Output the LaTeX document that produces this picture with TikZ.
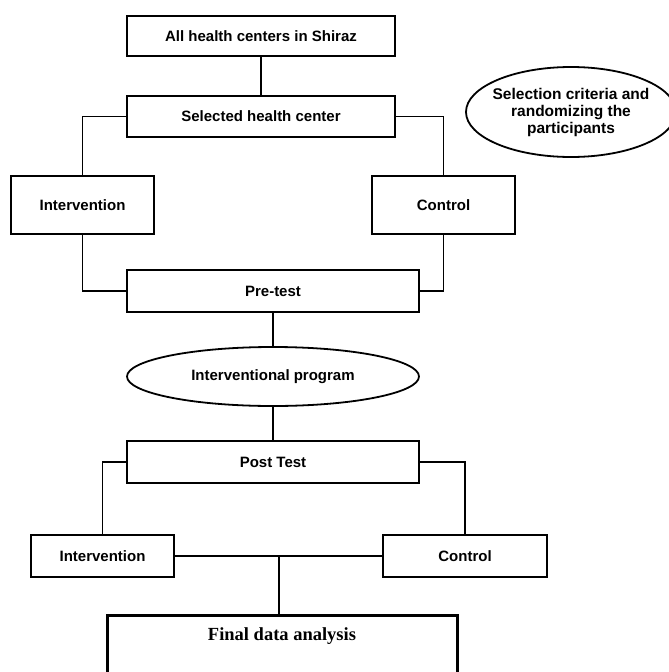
\documentclass[tikz,border=0pt]{standalone}
\usepackage{fontspec}
\setmainfont{Liberation Sans}
\newfontfamily\serifbold{Liberation Serif}
\usetikzlibrary{shapes.geometric}
\begin{document}
\begin{tikzpicture}[x=1pt,y=-1pt,
  box/.style={draw,line width=1.8pt,rectangle,inner sep=0pt,font=\fontsize{15}{17}\selectfont\bfseries},
  oval/.style={draw,line width=1.8pt,ellipse,inner sep=-12pt,align=center,font=\fontsize{15}{17}\selectfont\bfseries},
  conn/.style={line width=1.8pt}]
\useasboundingbox (0,0) rectangle (669,672);
\fill[white] (0,0) rectangle (669,672);
\node[box,minimum width=268pt,minimum height=40pt] (b1) at (261,36) {All health centers in Shiraz};
\node[box,minimum width=268pt,minimum height=41pt] (b2) at (261,116.5) {Selected health center};
\node[oval,minimum width=210pt,minimum height=90pt,font=\fontsize{15.5}{17}\selectfont\bfseries] (e1) at (571,112) {Selection criteria and\\randomizing the\\participants};
\node[box,minimum width=143pt,minimum height=58pt] (i1) at (82.5,205) {Intervention};
\node[box,minimum width=143pt,minimum height=58pt] (c1) at (443.5,205) {Control};
\node[box,minimum width=292pt,minimum height=42pt] (pre) at (273,291) {Pre-test};
\node[oval,minimum width=292pt,minimum height=59pt] (e2) at (273,376.5) {Interventional program};
\node[box,minimum width=292pt,minimum height=42pt] (post) at (273,462) {Post Test};
\node[box,minimum width=143pt,minimum height=42pt] (i2) at (102.5,556) {Intervention};
\node[box,minimum width=164pt,minimum height=42pt] (c2) at (465,556) {Control};
\node[draw,line width=3pt,minimum width=350pt,minimum height=90pt,inner sep=0pt] (fin) at (282,660) {};
\node[font=\fontsize{18.5}{20}\selectfont\serifbold\bfseries] (fint) at (282,636.5) {Final data analysis};
\coordinate (j) at (279,556);
\draw[conn] (b1.south) -- (b2.north);
\draw[conn] (b2.west) -| (i1.north);
\draw[conn] (b2.east) -| (c1.north);
\draw[conn] (i1.south) |- (pre.west);
\draw[conn] (c1.south) |- (pre.east);
\draw[conn] (pre.south) -- (e2.north);
\draw[conn] (e2.south) -- (post.north);
\draw[conn] (post.west) -| (i2.north);
\draw[conn] (post.east) -| (c2.north);
\draw[conn] (i2.east) -- (c2.west);
\draw[conn] (j) -- (j |- fin.north);
\end{tikzpicture}
\end{document}
